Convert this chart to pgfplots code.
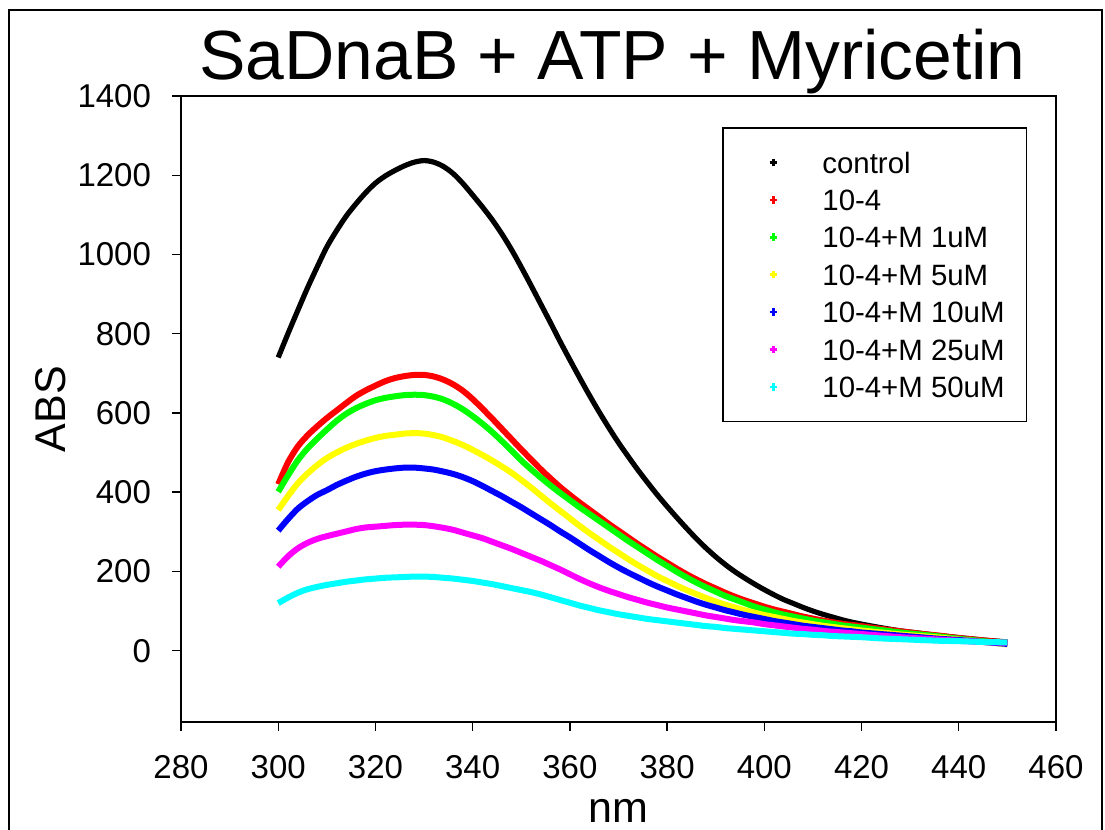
\documentclass[border=0pt]{standalone}
\usepackage{fontspec}
\setmainfont{Liberation Sans}
\usepackage{pgfplots}
\pgfplotsset{compat=1.18}
\definecolor{cgreen}{RGB}{0,255,0}
\definecolor{cyellow}{RGB}{255,255,0}
\definecolor{cblue}{RGB}{0,0,255}
\definecolor{cmag}{RGB}{255,0,255}
\definecolor{ccyan}{RGB}{0,255,255}
\begin{document}
\begin{tikzpicture}
\path[use as bounding box] (-90.5pt,-54pt) rectangle (462pt,361pt);
\begin{axis}[
  at={(0,0)}, anchor=south west,
  scale only axis, width=437.5pt, height=313pt,
  xmin=280, xmax=460, ymin=-180, ymax=1400,
  xtick={280,300,...,460}, ytick={0,200,...,1400},
  tick align=outside, tick pos=left, major tick length=4.5pt,
  axis line style={line width=0.7pt}, every tick/.style={line width=0.7pt, black},
  ticklabel style={font=\fontsize{16.5}{19}\selectfont},
  xticklabel style={yshift=-8.5pt},
  yticklabel style={xshift=-7pt},
  /pgf/number format/assume math mode=true,
  /pgf/number format/1000 sep={},
  legend style={at={(0.6183,0.9505)}, anchor=north west, draw=black, line width=0.8pt,
    fill=white, font=\fontsize{14.7}{17}\selectfont, inner xsep=9pt, inner ysep=8pt,
    row sep=0pt, column sep=0pt,
    nodes={inner sep=2pt, text height=12.65pt, text depth=2.05pt}},
  legend cell align=left,
  legend image code/.code={\path[draw=none, fill=none] (0pt,0pt) -- (38.8pt,0pt);
    \draw[#1, line width=1.3pt, line cap=butt] (16.3pt,-1.9pt) -- (16.3pt,1.9pt) (14.4pt,0pt) -- (18.2pt,0pt);},
]
% control
\addplot[black, line width=2.6pt, smooth] coordinates {
(300,740)(302,800)(304,858)(306,915)(308,968)(310,1019)(312,1060)(314,1097)(316,1128)(318,1156)
(320,1180)(322,1198)(324,1212)(326,1224)(328,1233)(330,1237)(332,1233)(334,1222)(336,1204)(338,1179)
(340,1150)(342,1120)(344,1088)(346,1052)(348,1012)(350,968)(352,922)(354,875)(356,828)(358,780)
(360,734)(362,689)(364,645)(366,603)(368,563)(370,525)(372,490)(374,456)(376,424)(378,393)
(380,364)(382,336)(384,309)(386,283)(388,259)(390,237)(392,217)(394,199)(396,183)(398,168)
(400,154)(402,141)(404,129)(406,119)(408,109)(410,100)(412,92)(414,85)(416,78)(418,72)
(420,67)(424,58)(428,50)(432,44)(436,38)(440,33)(445,27)(450,22)};
\addlegendentry{control}
% 10-4
\addplot[red, line width=3pt, smooth] coordinates {
(300,420)(302,475)(304,515)(306,543)(308,566)(310,587)(312,606)(314,625)(316,643)(318,657)
(320,669)(322,680)(324,688)(326,693)(328,696)(330,696)(332,692)(334,684)(336,672)(338,656)
(340,635)(342,611)(344,586)(346,560)(348,534)(350,508)(352,483)(354,458)(356,435)(358,413)
(360,393)(362,374)(364,356)(366,338)(368,320)(370,303)(372,286)(374,269)(376,253)(378,237)
(380,222)(382,207)(384,193)(386,180)(388,168)(390,157)(392,146)(394,136)(396,127)(398,119)
(400,111)(402,104)(404,98)(406,92)(408,86)(410,81)(412,76)(414,72)(416,68)(418,65)
(420,62)(424,55)(428,49)(432,43)(436,38)(440,32)(445,26)(450,20)};
\addlegendentry{10-4}
% 1uM
\addplot[cgreen, line width=3pt, smooth] coordinates {
(300,401)(302,442)(304,480)(306,510)(308,535)(310,558)(312,580)(314,598)(316,612)(318,623)
(320,632)(322,638)(324,642)(326,645)(328,646)(330,645)(332,641)(334,634)(336,623)(338,609)
(340,592)(342,573)(344,552)(346,529)(348,505)(350,480)(352,458)(354,437)(356,417)(358,398)
(360,380)(362,362)(364,345)(366,328)(368,311)(370,294)(372,277)(374,261)(376,245)(378,229)
(380,214)(382,199)(384,185)(386,172)(388,160)(390,149)(392,138)(394,129)(396,120)(398,111)
(400,104)(402,97)(404,91)(406,86)(408,81)(410,76)(412,72)(414,68)(416,64)(418,61)
(420,58)(424,52)(428,46)(432,41)(436,36)(440,30)(445,24)(450,17)};
\addlegendentry{10-4+M 1uM}
% 5uM
\addplot[cyellow, line width=3pt, smooth] coordinates {
(300,355)(302,390)(304,422)(306,447)(308,468)(310,486)(312,500)(314,512)(316,522)(318,530)
(320,537)(322,542)(324,545)(326,548)(328,549)(330,548)(332,544)(334,538)(336,529)(338,519)
(340,507)(342,494)(344,480)(346,465)(348,449)(350,431)(352,412)(354,392)(356,372)(358,353)
(360,334)(362,315)(364,297)(366,280)(368,263)(370,247)(372,231)(374,216)(376,202)(378,188)
(380,176)(382,164)(384,153)(386,143)(388,133)(390,124)(392,116)(394,109)(396,102)(398,96)
(400,90)(402,85)(404,80)(406,75)(408,71)(410,67)(412,63)(414,60)(416,57)(418,54)
(420,51)(424,46)(428,41)(432,37)(436,33)(440,28)(445,22)(450,16)};
\addlegendentry{10-4+M 5uM}
% 10uM
\addplot[cblue, line width=3pt, smooth] coordinates {
(300,303)(302,332)(304,358)(306,377)(308,393)(310,405)(312,418)(314,429)(316,439)(318,447)
(320,453)(322,457)(324,460)(326,462)(328,462)(330,460)(332,457)(334,452)(336,446)(338,438)
(340,428)(342,416)(344,403)(346,390)(348,376)(350,362)(352,347)(354,332)(356,317)(358,301)
(360,286)(362,270)(364,254)(366,239)(368,224)(370,210)(372,197)(374,185)(376,173)(378,162)
(380,152)(382,142)(384,133)(386,124)(388,116)(390,109)(392,102)(394,96)(396,90)(398,85)
(400,80)(402,75)(404,71)(406,67)(408,63)(410,60)(412,57)(414,54)(416,51)(418,49)
(420,46)(424,42)(428,38)(432,34)(436,30)(440,27)(445,22)(450,17)};
\addlegendentry{10-4+M 10uM}
% 25uM
\addplot[cmag, line width=3pt, smooth] coordinates {
(300,212)(302,238)(304,258)(306,272)(308,282)(310,289)(312,295)(314,301)(316,307)(318,311)
(320,313)(322,315)(324,317)(326,318)(328,318)(330,317)(332,314)(334,310)(336,305)(338,298)
(340,291)(342,284)(344,275)(346,266)(348,257)(350,247)(352,237)(354,227)(356,216)(358,205)
(360,193)(362,181)(364,170)(366,160)(368,151)(370,143)(372,135)(374,128)(376,121)(378,115)
(380,109)(382,104)(384,99)(386,94)(388,89)(390,85)(392,81)(394,77)(396,74)(398,71)
(400,67)(402,64)(404,61)(406,58)(408,55)(410,53)(412,50)(414,48)(416,46)(418,44)
(420,42)(424,38)(428,34)(432,31)(436,28)(440,25)(445,22)(450,20)};
\addlegendentry{10-4+M 25uM}
% 50uM
\addplot[ccyan, line width=3pt, smooth] coordinates {
(300,120)(302,134)(304,146)(306,155)(308,161)(310,166)(312,170)(314,174)(316,177)(318,180)
(320,182)(322,184)(324,185)(326,186)(328,187)(330,187)(332,186)(334,184)(336,182)(338,179)
(340,176)(342,172)(344,168)(346,163)(348,158)(350,153)(352,148)(354,142)(356,135)(358,128)
(360,121)(362,114)(364,108)(366,102)(368,97)(370,92)(372,88)(374,84)(376,80)(378,77)
(380,74)(382,71)(384,68)(386,65)(388,62)(390,60)(392,57)(394,55)(396,53)(398,51)
(400,49)(402,47)(404,45)(406,43)(408,42)(410,40)(412,39)(414,37)(416,36)(418,35)
(420,34)(424,31)(428,29)(432,27)(436,25)(440,24)(445,22)(450,21)};
\addlegendentry{10-4+M 50uM}
\end{axis}
\node[anchor=base, font=\fontsize{34.8}{40}\selectfont] at (215.75pt,321pt) {SaDnaB + ATP + Myricetin};
\node[anchor=base, font=\fontsize{21.5}{26}\selectfont] at (218.75pt,-50.3pt) {nm};
\node[anchor=base, rotate=90, font=\fontsize{21.5}{26}\selectfont] at (-57.5pt,156.5pt) {ABS};
\draw[line width=1pt] (-86pt,-60pt) -- (-86pt,356pt) -- (460.5pt,356pt) -- (460.5pt,-60pt);
\end{tikzpicture}
\end{document}
